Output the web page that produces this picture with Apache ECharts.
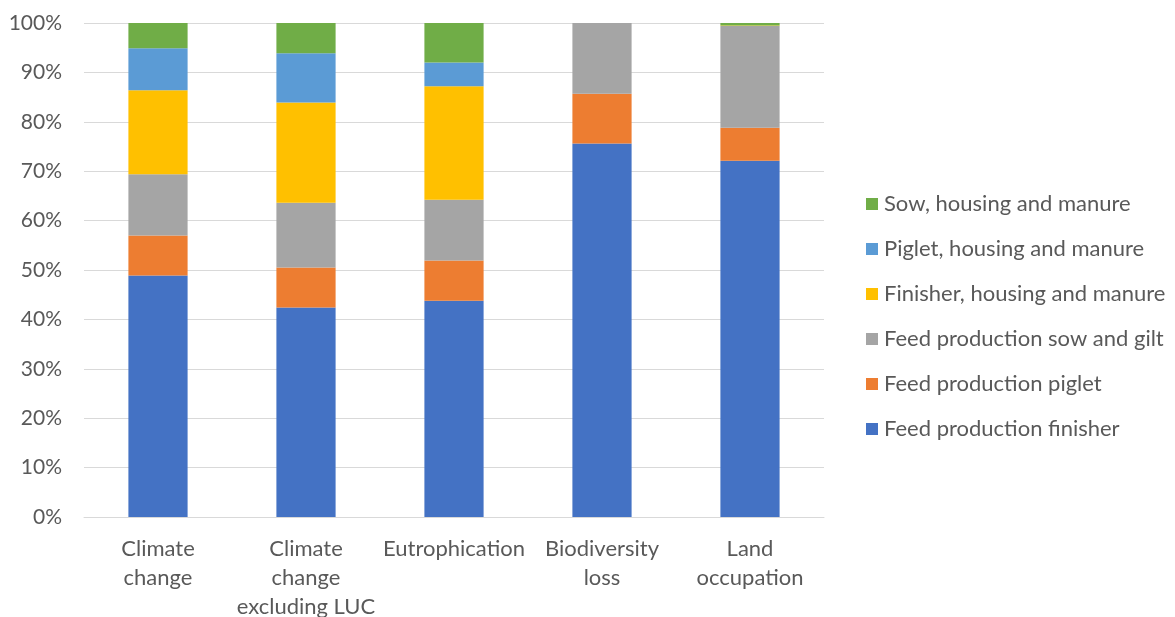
<!DOCTYPE html>
<html>
<head>
<meta charset="utf-8">
<script src="https://cdn.jsdelivr.net/npm/echarts@6/dist/echarts.min.js"></script>
<style>
  html, body { margin: 0; padding: 0; background: #fff; }
  #chart { width: 1175px; height: 617px; }
</style>
</head>
<body>
<div id="chart"></div>
<script>
// Impact categories (axis labels, wrapped)
const categories = [
  'Climate\nchange',
  'Climate\nchange\nexcluding LUC',
  'Eutrophication',
  'Biodiversity\nloss',
  'Land\noccupation'
];

// Share of each contributor per impact category (%)
const feedFinisher     = [48.9, 42.4, 43.8, 75.6, 72.1];
const feedPiglet       = [8.1, 8.1, 8.1, 10.1, 6.7];
const feedSowGilt      = [12.4, 13.1, 12.3, 14.3, 20.6];
const finisherHousing  = [17.0, 20.3, 23.0, 0, 0.1];
const pigletHousing    = [8.5, 10.0, 4.8, 0, 0];
const sowHousing       = [5.1, 6.1, 8.0, 0, 0.5];

const yTicks = [0, 10, 20, 30, 40, 50, 60, 70, 80, 90, 100];

const seriesDefs = [
  { name: 'Feed production finisher', data: feedFinisher, color: '#4472C4' },
  { name: 'Feed production piglet', data: feedPiglet, color: '#ED7D31' },
  { name: 'Feed production sow and gilt', data: feedSowGilt, color: '#A5A5A5' },
  { name: 'Finisher, housing and manure', data: finisherHousing, color: '#FFC000' },
  { name: 'Piglet, housing and manure', data: pigletHousing, color: '#5B9BD5' },
  { name: 'Sow, housing and manure', data: sowHousing, color: '#70AD47' }
];

const fontFamily = 'Lato, "Open Sans", sans-serif';
const textColor = '#595959';

const chart = echarts.init(document.getElementById('chart'), null, { renderer: 'canvas' });

chart.setOption({
  animation: false,
  textStyle: { fontFamily: fontFamily },
  grid: { left: 84, right: 351, top: 23, bottom: 100, containLabel: false, outerBoundsMode: 'none' },
  legend: {
    orient: 'vertical',
    left: 861,
    top: 188,
    itemWidth: 12,
    itemHeight: 12,
    itemGap: 23,
    icon: 'rect',
    data: seriesDefs.map(s => s.name).reverse(),
    textStyle: { fontSize: 22, color: textColor, fontFamily: fontFamily, lineHeight: 20, padding: [0, 0, 0, 1] }
  },
  xAxis: {
    type: 'category',
    data: categories,
    axisLine: { show: true, lineStyle: { color: '#d9d9d9', width: 1 } },
    axisTick: { show: false },
    axisLabel: {
      color: textColor,
      fontSize: 22,
      fontFamily: fontFamily,
      lineHeight: 29,
      margin: 17,
      interval: 0
    }
  },
  yAxis: {
    type: 'value',
    min: yTicks[0],
    max: yTicks[yTicks.length - 1],
    interval: 10,
    axisLine: { show: false },
    axisTick: { show: false },
    splitLine: { lineStyle: { color: '#d9d9d9', width: 1 } },
    axisLabel: {
      color: textColor,
      fontSize: 21,
      fontFamily: fontFamily,
      margin: 22,
      formatter: v => v + '%'
    }
  },
  series: seriesDefs.map(s => ({
    name: s.name,
    type: 'bar',
    stack: 'total',
    barWidth: '40%',
    data: s.data,
    itemStyle: { color: s.color },
    emphasis: { disabled: true }
  }))
});
</script>
</body>
</html>
